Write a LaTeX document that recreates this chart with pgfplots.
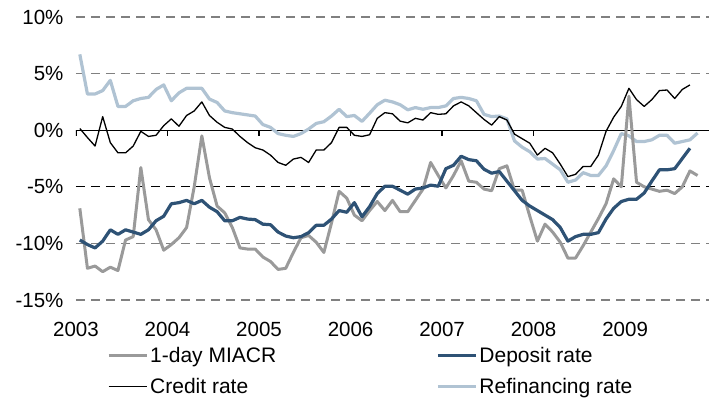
\documentclass[border=0pt]{standalone}
\usepackage{fontspec}
\setmainfont{Liberation Sans}
\usepackage{pgfplots}
\usepackage{pgfplotstable}
\pgfplotsset{compat=1.18}
\definecolor{miacr}{HTML}{9A9A9A}
\definecolor{depo}{HTML}{2E5275}
\definecolor{refi}{HTML}{B0C3D3}
\pgfplotstableread{
i m d c r
0 -6.9 -9.7 0.15 6.7
1 -12.2 -10.1 -0.65 3.2
2 -12.0 -10.4 -1.4 3.2
3 -12.5 -9.8 1.2 3.5
4 -12.1 -8.8 -1.1 4.4
5 -12.4 -9.2 -2.0 2.1
6 -9.7 -8.8 -2.0 2.1
7 -9.4 -9.0 -1.4 2.6
8 -3.3 -9.2 -0.1 2.8
9 -7.9 -8.8 -0.55 2.9
10 -8.8 -8.0 -0.45 3.6
11 -10.6 -7.6 0.4 4.0
12 -10.1 -6.5 1.0 2.6
13 -9.5 -6.4 0.35 3.3
14 -8.6 -6.2 1.3 3.7
15 -5.0 -6.5 1.7 3.7
16 -0.5 -6.2 2.5 3.7
17 -4.2 -6.8 1.3 2.75
18 -6.7 -7.2 0.7 2.45
19 -7.3 -8.0 0.25 1.7
20 -8.6 -8.0 0.1 1.55
21 -10.4 -7.7 -0.55 1.45
22 -10.5 -7.85 -1.1 1.35
23 -10.5 -7.9 -1.55 1.25
24 -11.2 -8.3 -1.75 0.5
25 -11.6 -8.35 -2.2 0.25
26 -12.3 -9.0 -2.85 -0.3
27 -12.2 -9.35 -3.1 -0.45
28 -10.8 -9.5 -2.55 -0.55
29 -9.5 -9.4 -2.4 -0.3
30 -9.3 -9.05 -2.85 0.1
31 -9.9 -8.4 -1.75 0.6
32 -10.8 -8.4 -1.75 0.75
33 -8.2 -7.85 -1.1 1.25
34 -5.4 -7.1 0.25 1.85
35 -6.0 -7.25 0.25 1.2
36 -7.5 -6.4 -0.45 1.3
37 -8.0 -7.65 -0.55 0.78
38 -7.1 -6.75 -0.4 1.5
39 -6.3 -5.6 1.05 2.25
40 -7.1 -4.95 1.55 2.65
41 -6.2 -4.95 1.45 2.5
42 -7.2 -5.3 0.8 2.25
43 -7.2 -5.65 0.65 1.8
44 -6.2 -5.2 1.05 2.0
45 -5.2 -5.1 0.9 1.85
46 -2.85 -4.85 1.55 2.0
47 -4.0 -4.95 1.4 2.0
48 -5.1 -3.4 1.45 2.15
49 -4.0 -3.1 2.15 2.8
50 -2.7 -2.3 2.5 2.9
51 -4.5 -2.6 2.15 2.8
52 -4.6 -2.7 1.55 2.6
53 -5.2 -3.45 0.95 1.4
54 -5.35 -3.8 0.45 1.2
55 -3.4 -3.65 1.2 1.25
56 -3.15 -4.5 0.9 1.0
57 -5.3 -5.35 -0.35 -0.95
58 -5.3 -6.2 -0.75 -1.5
59 -7.6 -6.7 -1.15 -1.9
60 -9.8 -7.1 -2.2 -2.55
61 -8.3 -7.5 -1.6 -2.5
62 -9.0 -7.9 -2.0 -3.0
63 -9.9 -8.6 -3.0 -3.5
64 -11.3 -9.8 -4.1 -4.6
65 -11.3 -9.4 -3.9 -4.4
66 -10.2 -9.2 -3.2 -3.75
67 -9.0 -9.2 -3.2 -4.0
68 -7.8 -9.05 -2.2 -4.0
69 -6.5 -7.85 -0.1 -3.15
70 -4.3 -6.9 1.15 -1.8
71 -5.0 -6.3 2.1 -0.3
72 3.0 -6.1 3.7 -0.5
73 -4.6 -6.1 2.7 -1.0
74 -5.0 -5.55 2.1 -1.0
75 -5.2 -4.5 2.7 -0.85
76 -5.4 -3.5 3.5 -0.45
77 -5.3 -3.5 3.55 -0.45
78 -5.6 -3.4 2.8 -1.15
79 -5.0 -2.5 3.6 -1.0
80 -3.6 -1.6 4.0 -0.85
81 -4.0 nan nan -0.25
}\rates
\begin{document}
\begin{tikzpicture}
\begin{axis}[
  scale only axis, width=633pt, height=283pt,
  xmin=-0.5, xmax=82.5, ymin=-15, ymax=10,
  axis line style={draw=none}, major tick length=0pt,
  xtick={-0.5,11.5,23.5,35.5,47.5,59.5,71.5},
  xticklabels={2003,2004,2005,2006,2007,2008,2009},
  ytick={-15,-10,-5,0,5,10},
  yticklabels={-15\%,-10\%,-5\%,0\%,5\%,10\%},
  ymajorgrids,
  grid style={dash pattern=on 9pt off 6pt, color=black!50, line width=1.2pt},
  tick label style={font=\fontsize{20.5}{24}\selectfont, text=black},
  xticklabel style={yshift=-19pt},
  yticklabel style={xshift=-9pt},
  legend columns=2,
  legend cell align=left,
  legend image code/.code={\draw[#1] (0pt,0pt) -- (38pt,0pt);},
  legend style={at={(0,0)}, anchor=north west, xshift=28pt, yshift=-43pt,
    draw=none, fill=none, font=\fontsize{21}{24}\selectfont,
    /tikz/every even column/.append style={column sep=158pt},
    row sep=10pt},
]
\draw[dash pattern=on 9pt off 6pt, black, line width=1.2pt] (axis cs:-0.5,-5) -- (axis cs:82.5,-5);
\draw[black, line width=1.3pt] (axis cs:-0.5,0) -- (axis cs:82.5,0);
\draw[black, line width=1.2pt] (axis cs:-0.5,0) -- ++(0pt,-5.5pt);
\draw[black, line width=1.2pt] (axis cs:11.5,0) -- ++(0pt,-5.5pt);
\draw[black, line width=1.2pt] (axis cs:23.5,0) -- ++(0pt,-5.5pt);
\draw[black, line width=1.2pt] (axis cs:35.5,0) -- ++(0pt,-5.5pt);
\draw[black, line width=1.2pt] (axis cs:47.5,0) -- ++(0pt,-5.5pt);
\draw[black, line width=1.2pt] (axis cs:59.5,0) -- ++(0pt,-5.5pt);
\draw[black, line width=1.2pt] (axis cs:71.5,0) -- ++(0pt,-5.5pt);
\addplot[refi, line width=3.2pt, line join=round, forget plot] table[x=i, y=r] {\rates};
\addplot[miacr, line width=3pt, line join=round, forget plot] table[x=i, y=m] {\rates};
\addplot[depo, line width=3.2pt, line join=round, forget plot] table[x=i, y=d] {\rates};
\addplot[black, line width=1.3pt, line join=round, forget plot] table[x=i, y=c] {\rates};
\addlegendimage{miacr, line width=3pt}
\addlegendentry{1-day MIACR}
\addlegendimage{depo, line width=3.2pt}
\addlegendentry{Deposit rate}
\addlegendimage{black, line width=1.3pt}
\addlegendentry{Credit rate}
\addlegendimage{refi, line width=3.2pt}
\addlegendentry{Refinancing rate}
\end{axis}
\pgfresetboundingbox
\path[use as bounding box] (-76pt,-120pt) rectangle (634pt,300pt);
\end{tikzpicture}
\end{document}
